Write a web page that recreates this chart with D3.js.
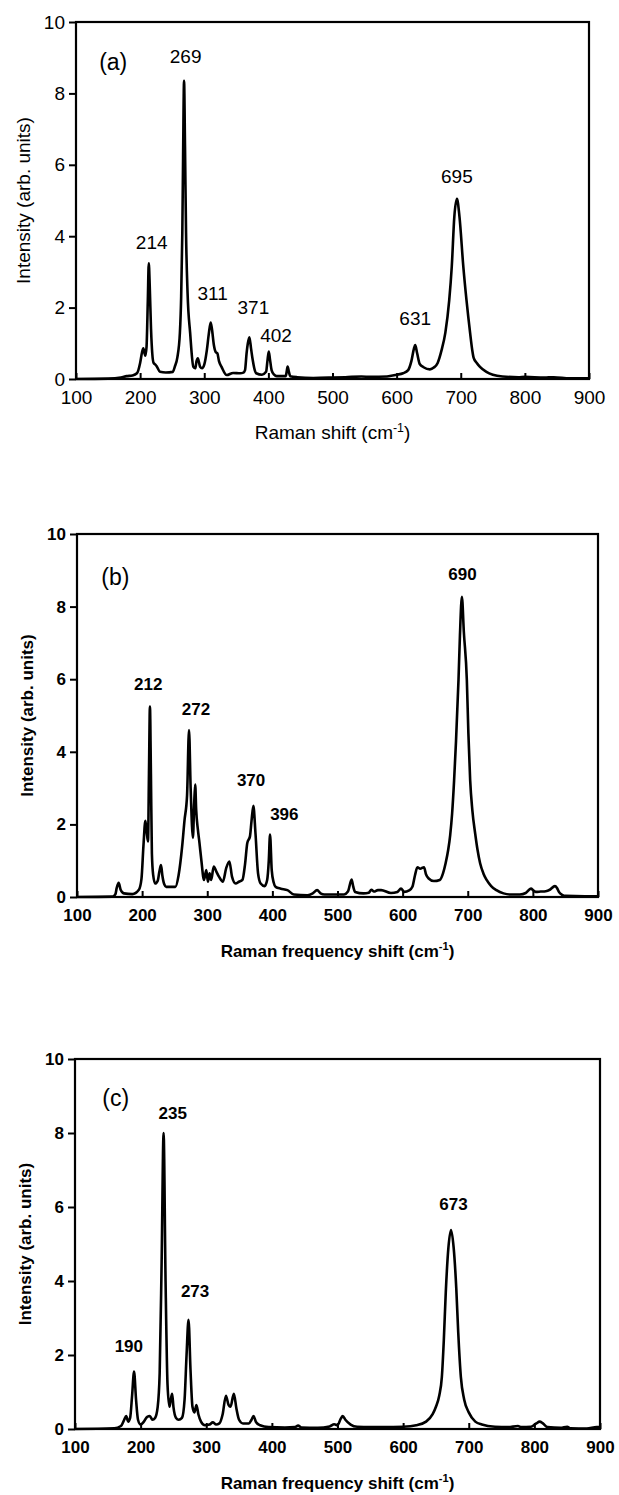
<!DOCTYPE html>
<html><head><meta charset="utf-8">
<script src="https://cdn.jsdelivr.net/npm/d3@7"></script>
<style>body{margin:0;background:#fff}svg{display:block}</style>
</head><body>
<svg id="c" width="619" height="1495"></svg>
<script>
const xTicks = [100,200,300,400,500,600,700,800,900];
const yTicks = [0,2,4,6,8,10];

// Panel (a) spectrum: [Raman shift, intensity]
const specA = [[100,0],[150,0.01],[170,0.04],[179,0.08],[188,0.1],[195,0.16],[200,0.45],[203,0.75],[205,0.86],[208,0.65],[210,0.9],[212,2.2],[213.5,3.24],[215,2.6],[217,1.4],[219,0.7],[221,0.45],[224,0.4],[226,0.35],[231,0.2],[240,0.18],[251,0.2],[254,0.34],[258,0.6],[262,1.29],[264,2.3],[265.8,4.1],[267,6.2],[268.5,8.35],[270,6.5],[271.6,4.1],[274,2.4],[278,1.29],[283,0.34],[286,0.3],[288,0.5],[290,0.58],[292,0.45],[293.5,0.34],[296.6,0.3],[300,0.4],[304,0.8],[307,1.25],[310,1.58],[312,1.4],[315,0.95],[318,0.75],[320.4,0.72],[323,0.5],[327,0.34],[335,0.11],[345,0.17],[356,0.16],[361,0.18],[363.6,0.25],[366,0.72],[368,1.0],[370.4,1.17],[373,0.85],[375.6,0.53],[378,0.3],[381,0.16],[390,0.12],[396.4,0.2],[398.5,0.5],[400.6,0.77],[402.5,0.55],[405,0.25],[409,0.12],[413,0.08],[427,0.08],[428.5,0.2],[430,0.35],[432,0.2],[434,0.08],[445,0.05],[470,0.03],[500,0.04],[520,0.05],[545,0.07],[560,0.06],[585,0.07],[600,0.12],[610,0.16],[618,0.25],[623,0.5],[627,0.85],[629,0.95],[632,0.72],[636,0.42],[642,0.33],[652,0.27],[658,0.32],[664,0.45],[670,0.8],[676,1.3],[682,2.2],[686,3.15],[690,4.55],[694,5.05],[698,4.55],[704,3.15],[709,2.2],[714.6,1.29],[718,0.8],[720,0.6],[725,0.45],[730,0.34],[740,0.2],[750,0.12],[765,0.07],[790,0.05],[800,0.06],[830,0.04],[845,0.05],[870,0.02],[900,0.02]];

// Panel (b) spectrum
const specB = [[100,0],[155,0.01],[159,0.08],[161,0.25],[164,0.39],[167,0.2],[172,0.1],[185,0.08],[195,0.2],[199,0.5],[202,1.4],[205,2.1],[207,1.8],[209,1.53],[210.5,3.4],[212,5.25],[213.5,3.4],[215,1.2],[217,0.6],[220,0.37],[224,0.45],[226.5,0.7],[229,0.88],[231,0.6],[234,0.35],[237,0.28],[251,0.28],[256,0.6],[261.5,1.4],[265,2.1],[269,2.8],[272,4.6],[274.5,3.0],[278,1.63],[280,2.6],[281.5,3.1],[283,2.4],[285.6,1.86],[288,1.5],[291,1.0],[295,0.47],[298.5,0.74],[301,0.42],[303.6,0.65],[306,0.47],[310,0.84],[314,0.7],[318,0.56],[324,0.42],[329,0.79],[334,0.98],[338,0.56],[343.6,0.37],[348.7,0.42],[354,0.47],[358,0.9],[361.5,1.49],[365.6,1.67],[368,2.1],[370.8,2.51],[374,1.77],[378,0.65],[382,0.37],[388,0.3],[392,0.47],[394.5,1.0],[396.4,1.72],[399,0.74],[402,0.4],[405,0.28],[413,0.23],[423,0.19],[433,0.07],[454,0.05],[462,0.1],[468.7,0.19],[474,0.1],[480,0.07],[510,0.07],[516,0.15],[521.7,0.48],[524,0.3],[527,0.14],[540,0.1],[548,0.12],[552,0.2],[556,0.15],[562,0.19],[567,0.19],[582,0.11],[592,0.14],[597.5,0.23],[602.5,0.14],[610,0.18],[615,0.28],[619,0.6],[622.7,0.82],[627,0.78],[632.8,0.82],[636,0.62],[640,0.51],[648,0.44],[657,0.47],[662,0.65],[666,0.93],[670,1.3],[673,1.7],[676,2.3],[679,3.2],[682,4.3],[685.8,5.98],[688,7.2],[691,8.27],[694,7.3],[698.6,5.98],[701,4.5],[703.7,3.22],[707,2.4],[711.4,1.75],[715,1.3],[719,0.93],[724,0.65],[729,0.47],[736,0.3],[744,0.19],[755,0.1],[764,0.07],[780,0.07],[789,0.11],[797,0.23],[801,0.18],[804.5,0.14],[812,0.15],[819.7,0.16],[826,0.2],[833.8,0.3],[837,0.25],[840,0.14],[845,0.06],[850,0.03],[880,0.02],[900,0.02]];

// Panel (c) spectrum
const specC = [[100,0],[160,0.02],[170,0.08],[175,0.25],[178,0.35],[181,0.2],[184,0.3],[187,0.9],[190,1.55],[193,0.8],[196,0.25],[200,0.12],[205,0.2],[210,0.33],[214,0.35],[218,0.25],[222,0.3],[226,0.6],[229,1.5],[232,4.5],[235,8.0],[238,4.0],[241,1.2],[244,0.6],[246,0.8],[248,0.95],[250,0.6],[254,0.3],[258,0.25],[263,0.3],[267,0.8],[270,2.0],[273,2.95],[276,1.6],[279,0.6],[282,0.45],[285,0.65],[288,0.4],[292,0.2],[298,0.1],[305,0.12],[310,0.18],[315,0.12],[320,0.15],[325,0.4],[330,0.9],[334,0.65],[337,0.6],[342,0.95],[346,0.55],[350,0.25],[356,0.15],[365,0.15],[369,0.25],[372,0.35],[376,0.18],[382,0.1],[395,0.05],[420,0.04],[435,0.05],[440,0.09],[445,0.04],[470,0.03],[488,0.07],[495,0.13],[500,0.1],[505,0.28],[508,0.35],[512,0.25],[520,0.12],[530,0.06],[550,0.05],[570,0.05],[600,0.06],[620,0.1],[635,0.2],[645,0.4],[650,0.6],[655,0.9],[659,1.4],[662,2.4],[665,3.7],[669,4.9],[673,5.38],[677,4.9],[681,3.8],[684,2.6],[688,1.4],[693,0.8],[700,0.45],[710,0.2],[720,0.12],[740,0.06],[760,0.05],[775,0.08],[780,0.05],[795,0.06],[803,0.15],[808,0.2],[813,0.15],[820,0.05],[840,0.03],[850,0.06],[855,0.02],[880,0.01],[895,0.05],[900,0.05]];

// Peak labels: [text, shift, intensity] (anchor of label in data units)
const labelsA = [["214",218,3.64],["269",271,8.85],["311",313,2.21],["371",376.6,1.82],["402",412,1.04],["631",629,1.51],["695",694,5.48]];
const labelsB = [["212",209.5,5.7],["272",282.8,5.01],["370",367.3,3.06],["396",418.4,2.12],["690",691.9,8.73]];
const labelsC = [["190",182,2.09],["235",249,8.37],["273",283,3.57],["673",676.7,5.93]];

const panelTags = ["(a)","(b)","(c)"];
const tagPos = [[158,8.66],[159,8.6],[162,8.73]];
const xTitles = ["Raman shift (cm", "Raman frequency shift (cm", "Raman frequency shift (cm"];
const yTitle = "Intensity (arb. units)";

const svg = d3.select("#c");
svg.append("rect").attr("width",619).attr("height",1495).attr("fill","#fff");
const FONT = "'Liberation Sans', Arial, sans-serif";

const panels = [
  {spec:specA, labels:labelsA, box:[76,589,22,379], bold:false, fs:19, lfs:19, ylx:23},
  {spec:specB, labels:labelsB, box:[77,598,534,897], bold:true, fs:17, lfs:17, ylx:27},
  {spec:specC, labels:labelsC, box:[75,600,1059,1429], bold:true, fs:17, lfs:17, ylx:25}
];

panels.forEach((p,i)=>{
  const [x0,x1,y0,y1] = p.box;
  const x = d3.scaleLinear().domain([100,900]).range([x0,x1]);
  const y = d3.scaleLinear().domain([0,10]).range([y1,y0]);
  const g = svg.append("g").attr("font-family",FONT).attr("font-weight",p.bold?"bold":"normal");

  const ya = g.append("g").attr("transform",`translate(${x0},0)`)
    .call(d3.axisLeft(y).tickValues(yTicks).tickSize(7).tickPadding(4).tickFormat(d3.format("d")));
  ya.select(".domain").remove();
  ya.selectAll("line").attr("stroke","#000").attr("stroke-width",2);
  ya.selectAll("text").attr("font-size",p.fs).attr("font-family",FONT).attr("fill","#000");

  const xa = g.append("g").attr("transform",`translate(0,${y1})`)
    .call(d3.axisBottom(x).tickValues(xTicks).tickSizeInner(-6).tickSizeOuter(0).tickPadding(12).tickFormat(d3.format("d")));
  xa.select(".domain").remove();
  xa.selectAll("line").attr("stroke","#000").attr("stroke-width",2);
  xa.selectAll("text").attr("font-size",p.fs).attr("font-family",FONT).attr("fill","#000");

  g.append("rect").attr("x",x0).attr("y",y0).attr("width",x1-x0).attr("height",y1-y0)
    .attr("fill","none").attr("stroke","#000").attr("stroke-width",2.2);

  const line = d3.line().x(d=>x(d[0])).y(d=>y(d[1])).curve(d3.curveMonotoneX);
  g.append("path").datum(p.spec).attr("d",line).attr("fill","none")
    .attr("stroke","#000").attr("stroke-width",2.6).attr("stroke-linejoin","round");

  g.selectAll("text.pk").data(p.labels).enter().append("text").attr("class","pk")
    .attr("x",d=>x(d[1])).attr("y",d=>y(d[2])).attr("text-anchor","middle")
    .attr("font-size",p.lfs).attr("fill","#000").text(d=>d[0]);

  g.append("text").attr("x",x(tagPos[i][0])).attr("y",y(tagPos[i][1])).attr("text-anchor","middle")
    .attr("font-size",23).attr("font-weight","normal").attr("fill","#000").text(panelTags[i]);

  g.append("text").attr("transform",`translate(${p.ylx},${(y0+y1)/2}) rotate(-90)`)
    .attr("text-anchor","middle").attr("dominant-baseline","central").attr("font-size",p.fs).attr("fill","#000").text(yTitle);

  const xt = g.append("text").attr("x",(x0+x1)/2).attr("y",y1+60).attr("text-anchor","middle")
    .attr("font-size",p.fs).attr("fill","#000");
  xt.append("tspan").text(xTitles[i]);
  xt.append("tspan").attr("dy",-7).attr("font-size",p.fs*0.65).text("-1");
  xt.append("tspan").attr("dy",7).text(")");
});
</script>
</body></html>
